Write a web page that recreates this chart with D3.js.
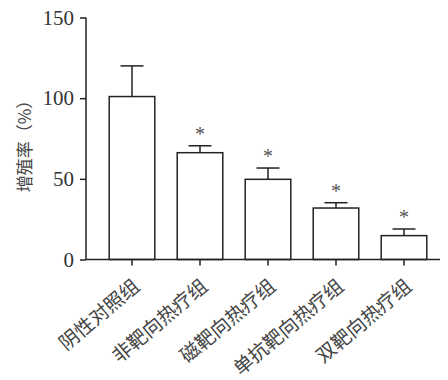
<!DOCTYPE html>
<html><head><meta charset="utf-8">
<script src="https://cdn.jsdelivr.net/npm/d3@7/dist/d3.min.js"></script>
<style>body{margin:0;background:#fff}</style>
</head><body>
<script>
const categories = ["阴性对照组","非靶向热疗组","磁靶向热疗组","单抗靶向热疗组","双靶向热疗组"];
const values = [101, 66.2, 49.7, 31.9, 14.8];
const errors = [19, 4.3, 7, 3.3, 4.1];
const significant = [false, true, true, true, true];
const yTicks = [0, 50, 100, 150];
const yLabel = "增殖率（%）";

const W = 448, H = 380;
const svg = d3.select("body").append("svg").attr("width", W).attr("height", H);
const x = d3.scaleBand().domain(categories).range([98, 438]).paddingInner(0.33).paddingOuter(0.165);
const y = d3.scaleLinear().domain([0, 150]).range([259.5, 17.5]);
const stroke = "#222";

// bars
svg.selectAll("rect.bar").data(values).enter().append("rect")
  .attr("x", (d,i)=>x(categories[i])).attr("width", x.bandwidth())
  .attr("y", d=>y(d)).attr("height", d=>y(0)-y(d))
  .attr("fill", "#fff").attr("stroke", stroke).attr("stroke-width", 1.5);

// error bars
const cap = 23;
values.forEach((v,i)=>{
  const cx = x(categories[i]) + x.bandwidth()/2;
  svg.append("line").attr("x1",cx).attr("x2",cx).attr("y1",y(v)).attr("y2",y(v+errors[i])).attr("stroke",stroke).attr("stroke-width",1.5);
  svg.append("line").attr("x1",cx-cap/2).attr("x2",cx+cap/2).attr("y1",y(v+errors[i])).attr("y2",y(v+errors[i])).attr("stroke",stroke).attr("stroke-width",1.5);
  if (significant[i]) {
    svg.append("text").attr("x",cx).attr("y",y(v+errors[i])-5)
      .attr("text-anchor","middle").attr("font-family","'Liberation Serif', serif").attr("font-size",20)
      .attr("fill","#555").text("*");
  }
});

// y axis
const yAxis = svg.append("g").attr("transform","translate(86,0)")
  .call(d3.axisLeft(y).tickValues(yTicks).tickSize(6).tickPadding(6));
yAxis.select(".domain").attr("stroke",stroke).attr("stroke-width",1.5).attr("d",`M-0,${y(150)}V${y(0)}`);
yAxis.selectAll(".tick line").attr("stroke",stroke).attr("stroke-width",1.5);
yAxis.selectAll(".tick text").attr("font-family","'Liberation Serif', serif").attr("font-size",21).attr("fill","#333");

// x axis
svg.append("line").attr("x1",86).attr("x2",440).attr("y1",y(0)).attr("y2",y(0)).attr("stroke",stroke).attr("stroke-width",1.5);
const xAxis = svg.append("g").attr("transform",`translate(0,${y(0)})`)
  .call(d3.axisBottom(x).tickSize(6).tickSizeOuter(0));
xAxis.select(".domain").remove();
xAxis.selectAll(".tick line").attr("stroke",stroke).attr("stroke-width",1.5);
xAxis.selectAll(".tick text")
  .attr("font-family","'Noto Sans CJK SC', sans-serif").attr("font-size",19.5).attr("fill","#444")
  .attr("text-anchor","end").attr("dy",null).attr("y",0).attr("x",0)
  .attr("transform","translate(9,29) rotate(-40)");

// y label
svg.append("text").attr("transform","translate(31,142) rotate(-90)")
  .attr("text-anchor","middle").attr("font-family","'Noto Sans CJK SC', sans-serif")
  .attr("font-size",17).attr("fill","#444").text(yLabel);
</script>
</body></html>
